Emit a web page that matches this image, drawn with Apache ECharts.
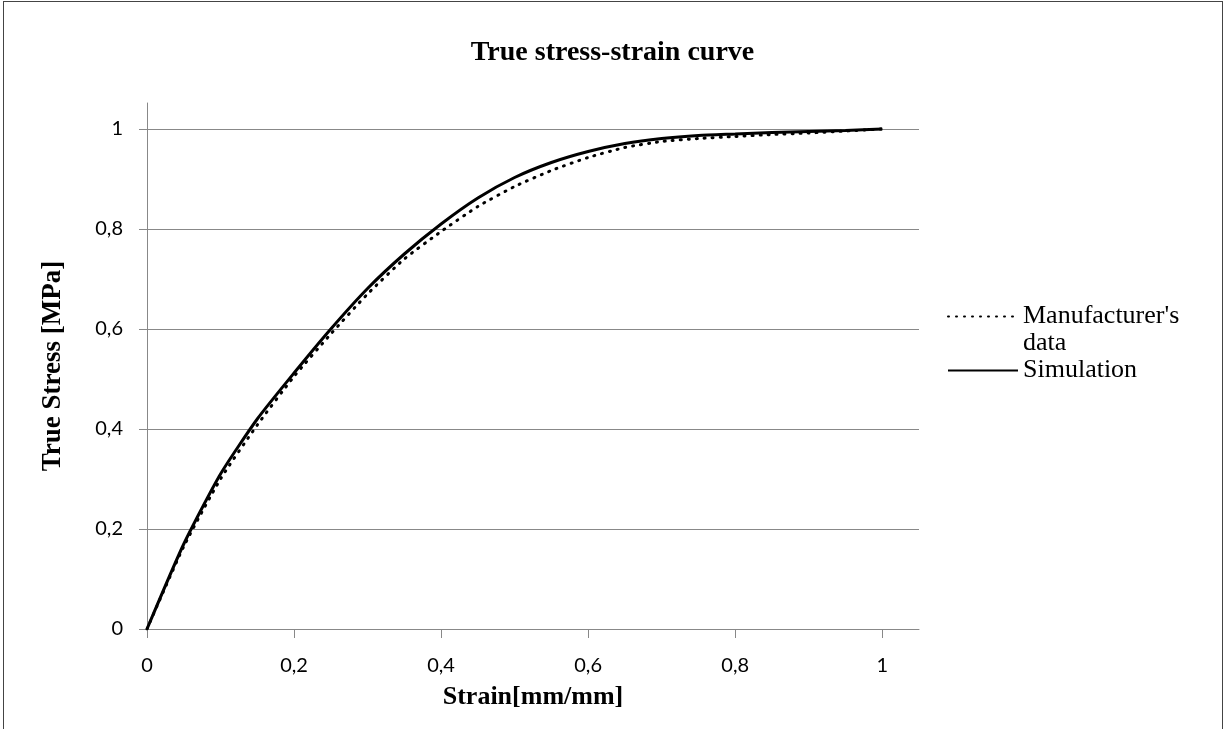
<!DOCTYPE html>
<html>
<head>
<meta charset="utf-8">
<script src="https://cdn.jsdelivr.net/npm/echarts@6/dist/echarts.min.js"></script>
<style>
html, body { margin: 0; padding: 0; background: #fff; }
#frame { position: absolute; left: 3px; top: 1px; width: 1218px; height: 760px; border: 1px solid #444; }
#main { position: absolute; left: 0; top: 0; width: 1225px; height: 729px; }
</style>
</head>
<body>
<div id="frame"></div>
<div id="main"></div>
<script>
// strain values (mm/mm)
var strain = [0, 0.05, 0.1, 0.15, 0.2, 0.25, 0.3, 0.35, 0.4, 0.45, 0.5,
	0.55, 0.6, 0.65, 0.7, 0.75, 0.8, 0.85, 0.9, 0.95, 1];
// normalised true stress
var manufacturer = [0, 0.165, 0.30, 0.408, 0.505, 0.59, 0.67, 0.74, 0.795, 0.845, 0.885,
	0.917, 0.943, 0.963, 0.975, 0.981, 0.985, 0.989, 0.992, 0.996, 1];
var simulation = [0, 0.17, 0.31, 0.42, 0.512, 0.60, 0.681, 0.75, 0.81, 0.862, 0.903,
	0.933, 0.955, 0.971, 0.981, 0.987, 0.99, 0.993, 0.995, 0.997, 1];
var ticks = [0, 0.2, 0.4, 0.6, 0.8, 1];

var chart = echarts.init(document.getElementById('main'));

function pairs(xs, ys) {
	var out = [];
	for (var i = 0; i < xs.length; i++) out.push([xs[i], ys[i]]);
	return out;
}
function comma(v) {
	return String(Math.round(v * 10) / 10).replace('.', ',');
}

var tickFont = { fontFamily: 'Lato', fontSize: 20, color: '#000' };
var legendFont = { fontFamily: 'Liberation Serif', fontSize: 26, color: '#000', lineHeight: 27 };

chart.setOption({
	animation: false,
	title: {
		text: 'True stress-strain curve',
		left: 'center',
		top: 34,
		textStyle: { fontFamily: 'Liberation Serif', fontSize: 28, fontWeight: 'bold', color: '#000' }
	},
	grid: { left: 147, right: 306, top: 103, bottom: 100 },
	legend: [{
		data: ["Manufacturer's data"],
		left: 947,
		top: 276,
		padding: 0,
		itemWidth: 70,
		itemHeight: 14,
		itemStyle: { opacity: 0 },
		// empty first line keeps the icon level with "Manufacturer's"
		formatter: function () { return "\nManufacturer's\ndata"; },
		textStyle: legendFont
	}, {
		data: ['Simulation'],
		left: 947,
		top: 357,
		padding: 0,
		itemWidth: 70,
		itemHeight: 14,
		itemStyle: { opacity: 0 },
		textStyle: legendFont
	}],
	xAxis: {
		type: 'value',
		min: 0,
		max: 1.05,
		name: 'Strain[mm/mm]',
		nameLocation: 'middle',
		nameGap: 55,
		nameTextStyle: { fontFamily: 'Liberation Serif', fontSize: 26, fontWeight: 'bold', color: '#000' },
		axisLine: { show: true, lineStyle: { color: '#888', width: 1 } },
		axisTick: { show: true, length: 9, customValues: ticks, lineStyle: { color: '#888' } },
		axisLabel: { customValues: ticks, margin: 27, formatter: comma, textStyle: tickFont },
		splitLine: { show: false }
	},
	yAxis: {
		type: 'value',
		min: 0,
		max: 1.052,
		name: 'True Stress [MPa]',
		nameLocation: 'middle',
		nameGap: 80,
		nameTextStyle: { fontFamily: 'Liberation Serif', fontSize: 27, fontWeight: 'bold', color: '#000' },
		axisLine: { show: true, lineStyle: { color: '#888', width: 1 } },
		axisTick: { show: true, length: 8, customValues: ticks, lineStyle: { color: '#888' } },
		axisLabel: { customValues: ticks, margin: 24, formatter: comma, textStyle: tickFont },
		splitLine: { show: true, lineStyle: { color: '#888', width: 1 } }
	},
	series: [{
		name: "Manufacturer's data",
		type: 'line',
		symbol: 'none',
		data: pairs(strain, manufacturer),
		smooth: 0.2,
		lineStyle: { color: '#000', width: 3, type: [1, 7], cap: 'round' },
		itemStyle: { color: '#000' }
	}, {
		name: 'Simulation',
		type: 'line',
		symbol: 'none',
		data: pairs(strain, simulation),
		smooth: 0.2,
		lineStyle: { color: '#000', width: 3 },
		itemStyle: { color: '#000' }
	}]
});
</script>
</body>
</html>
